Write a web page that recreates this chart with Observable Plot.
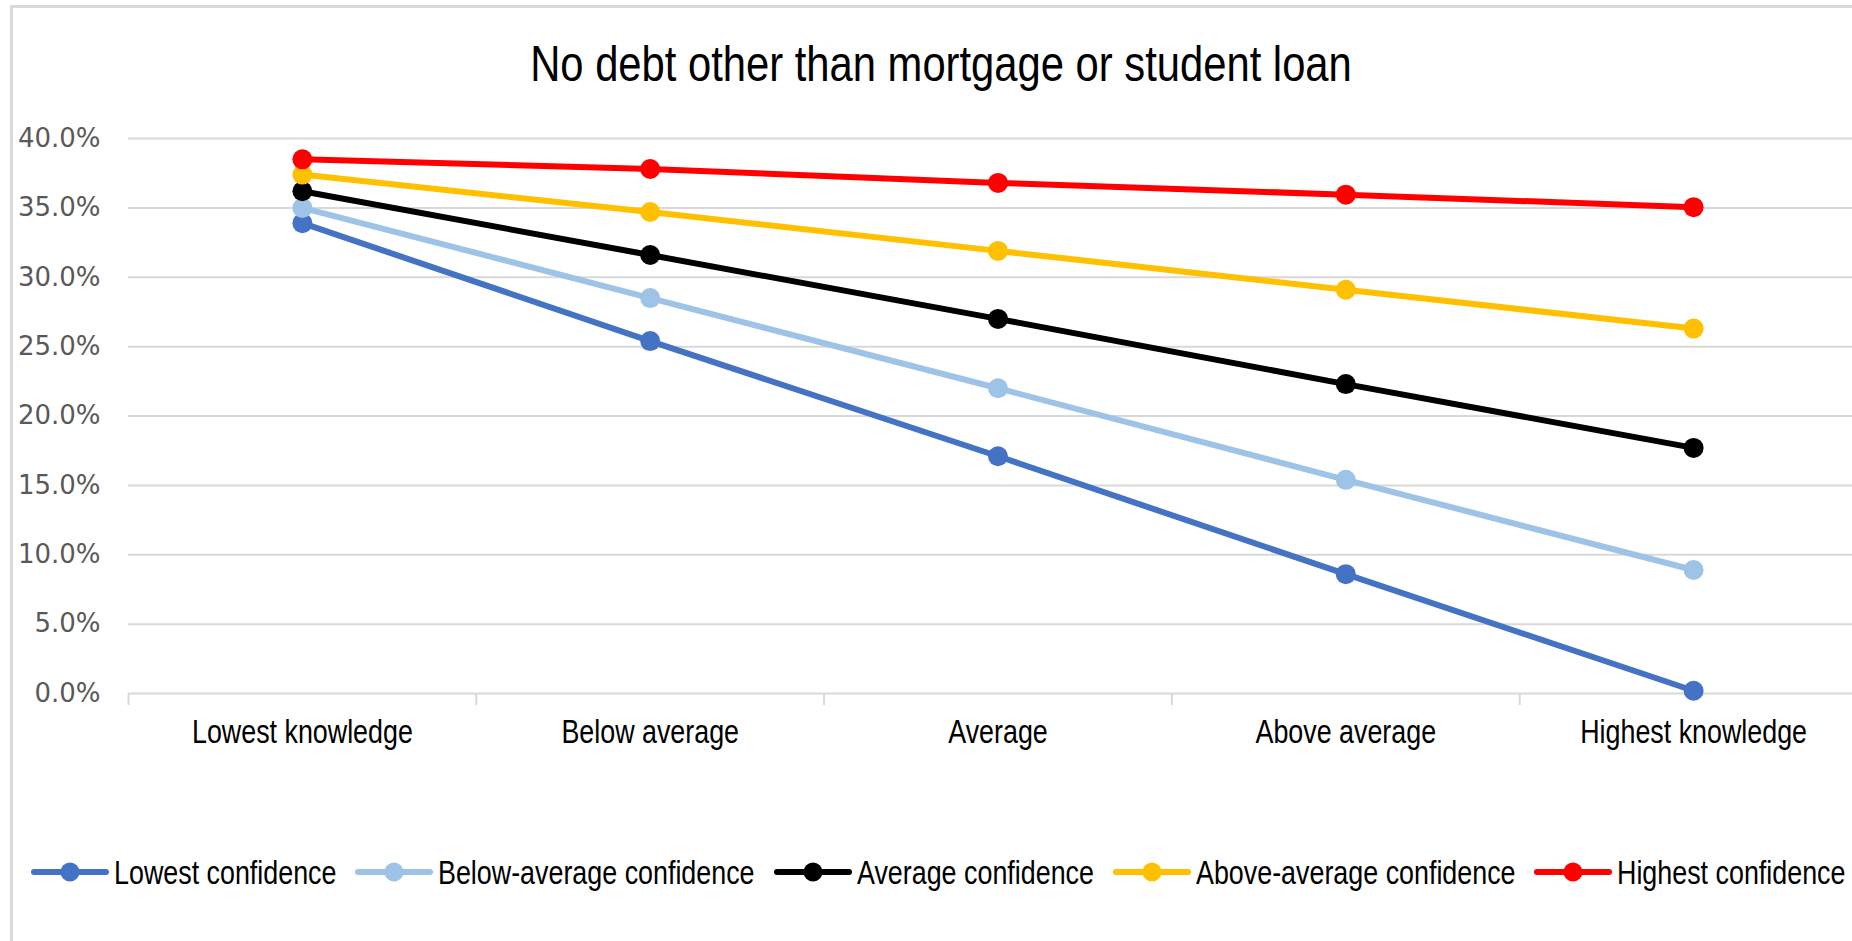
<!DOCTYPE html>
<html>
<head>
<meta charset="utf-8">
<script src="https://cdn.jsdelivr.net/npm/d3@7"></script>
<script src="https://cdn.jsdelivr.net/npm/@observablehq/plot@0.6"></script>
<style>
  html, body { margin: 0; padding: 0; background: #fff; overflow: hidden; }
  #chart { position: relative; width: 1852px; height: 941px; overflow: hidden; background: #fff; }
  #frame { position: absolute; left: 10px; top: 5px; width: 1900px; height: 1000px; border: 3px solid #d9d9d9; box-sizing: border-box; }
  #title { position: absolute; left: 0; top: 39px; width: 1882px; text-align: center; font-family: "Liberation Sans", Arial, sans-serif; font-size: 50px; line-height: 50px; color: #000; white-space: nowrap; }
  #title span { display: inline-block; transform: scaleX(0.835); transform-origin: center; }
  #plot { position: absolute; left: 0; top: 100px; width: 1880px; }
  #legend { position: absolute; left: 31px; top: 854px; display: flex; align-items: center; white-space: nowrap; font-family: "Liberation Sans", Arial, sans-serif; font-size: 34px; line-height: 36px; color: #000; }
  .item { display: flex; align-items: center; margin-right: 19px; }
  .item svg { margin-right: 5px; flex: none; }
  .item span { display: inline-block; transform: scaleX(0.79); transform-origin: left center; }
</style>
</head>
<body>
<div id="chart">
  <div id="frame"></div>
  <div id="title"><span></span></div>
  <div id="plot"></div>
  <div id="legend"></div>
</div>
<script>
const titleText = "No debt other than mortgage or student loan";
const categories = ["Lowest knowledge", "Below average", "Average", "Above average", "Highest knowledge"];
const seriesNames = ["Lowest confidence", "Below-average confidence", "Average confidence", "Above-average confidence", "Highest confidence"];
const seriesColors = ["#4472C4", "#9DC3E6", "#000000", "#FFC000", "#FF0000"];
const lowestConfidence = [33.9, 25.4, 17.1, 8.6, 0.2];
const belowAverageConfidence = [35.0, 28.5, 22.0, 15.4, 8.9];
const averageConfidence = [36.2, 31.6, 27.0, 22.3, 17.7];
const aboveAverageConfidence = [37.4, 34.7, 31.9, 29.1, 26.3];
const highestConfidence = [38.5, 37.8, 36.8, 35.95, 35.05];
const yTicks = [0, 5, 10, 15, 20, 25, 30, 35, 40];

const seriesValues = [lowestConfidence, belowAverageConfidence, averageConfidence, aboveAverageConfidence, highestConfidence];
const rows = seriesNames.flatMap((s, k) => seriesValues[k].map((v, i) => ({series: s, i, value: v})));
const boundaries = categories.map((c, i) => i - 0.5).concat([categories.length - 0.5]);

document.querySelector("#title span").textContent = titleText;

const sans = "'Liberation Sans', Arial, sans-serif";

const marks = [
  Plot.ruleY(yTicks, {y: d => d, stroke: "#d9d9d9", strokeWidth: 2}),
  Plot.axisX({ticks: boundaries, tickSize: 12, tickFormat: () => "", stroke: "#d9d9d9", strokeWidth: 2, label: null}),
  Plot.axisX({ticks: categories.map((c, i) => i), tickSize: 0, tickPadding: 25, tickFormat: i => categories[i], fontSize: 34, fontFamily: sans, fill: "#000", label: null}),
  Plot.axisY({ticks: yTicks, tickSize: 0, tickPadding: 28, tickFormat: d => d.toFixed(1) + "%", fontSize: 26, fontFamily: "DejaVu Sans", fill: "#595959", label: null})
];
seriesNames.forEach(s => {
  const d = rows.filter(r => r.series === s);
  marks.push(Plot.line(d, {x: "i", y: "value", stroke: "series", strokeWidth: 6, strokeLinecap: "round", strokeLinejoin: "round"}));
  marks.push(Plot.dot(d, {x: "i", y: "value", fill: "series", r: 10}));
});

const chart = Plot.plot({
  width: 1880,
  height: 680,
  marginLeft: 128,
  marginRight: 13,
  marginTop: 38,
  marginBottom: 87,
  x: {type: "linear", domain: [-0.5, categories.length - 0.5]},
  y: {domain: [0, 40]},
  color: {domain: seriesNames, range: seriesColors},
  style: {background: "transparent", overflow: "visible", maxWidth: "none"},
  marks
});
document.getElementById("plot").appendChild(chart);

// condense category labels (narrow font look): wrap each label in a horizontally scaled group
const ns = "http://www.w3.org/2000/svg";
Array.from(chart.querySelectorAll("text")).filter(el => categories.includes(el.textContent)).forEach(el => {
  const g = document.createElementNS(ns, "g");
  el.parentNode.insertBefore(g, el);
  g.appendChild(el);
  const bb = g.getBBox();
  const cx = bb.x + bb.width / 2;
  g.setAttribute("transform", `translate(${cx},0) scale(0.79,1) translate(${-cx},0)`);
});

const legend = document.getElementById("legend");
const legendScale = 0.79;
seriesNames.forEach((s, k) => {
  const item = document.createElement("div");
  item.className = "item";
  item.innerHTML = `<svg width="78" height="24" viewBox="0 0 78 24"><line x1="3" y1="12" x2="75" y2="12" stroke="${seriesColors[k]}" stroke-width="6" stroke-linecap="round"/><circle cx="39" cy="12" r="9.5" fill="${seriesColors[k]}"/></svg><span></span>`;
  item.querySelector("span").textContent = s;
  legend.appendChild(item);
});
legend.querySelectorAll(".item span").forEach(sp => {
  sp.style.marginRight = (-(1 - legendScale) * sp.offsetWidth) + "px";
});
</script>
</body>
</html>
